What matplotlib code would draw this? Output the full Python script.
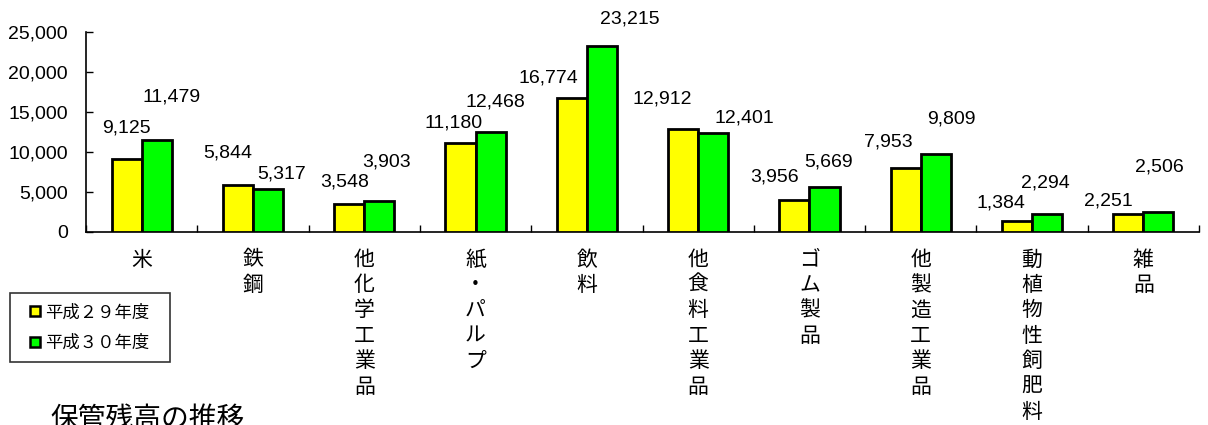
import numpy as np
import matplotlib.pyplot as plt
from matplotlib.lines import Line2D
from matplotlib.legend_handler import HandlerLine2D
from matplotlib.ticker import FuncFormatter

plt.rcParams['font.family'] = ['Liberation Sans', 'Noto Sans CJK JP', 'DejaVu Sans']

# --- data ---
categories = ['米', '鉄鋼', '他化学工業品', '紙・パルプ', '飲料', '他食料工業品',
              'ゴム製品', '他製造工業品', '動植物性飼肥料', '雑品']
h29 = [9125, 5844, 3548, 11180, 16774, 12912, 3956, 7953, 1384, 2251]
h30 = [11479, 5317, 3903, 12468, 23215, 12401, 5669, 9809, 2294, 2506]
series_names = ['平成２９年度', '平成３０年度']
title = '保管残高の推移'

# label offsets (pixels, dx / dy up) roughly matching the Excel placement
h29_off = [(0, 31), (-10, 32), (-5, 22), (-7, 20), (-23, 20),
           (-21, 30), (-20, 23), (-17, 26), (-16, 18), (-20, 13)]
h30_off = [(15, 43), (14, 15), (7, 39), (5, 30), (28, 27),
           (31, 15), (4, 25), (16, 35), (-2, 31), (1, 45)]

YELLOW = '#FFFF00'
GREEN = '#00FF00'
jp = ['Noto Sans CJK JP', 'DejaVu Sans']

fig = plt.figure(figsize=(12.08, 4.25), dpi=100)
ax = fig.add_axes([86 / 1208, (425 - 232) / 425, 1113 / 1208, 200 / 425])

x = np.arange(len(categories))
w = 0.27
b1 = ax.bar(x - w / 2, h29, w, color=YELLOW, edgecolor='black', linewidth=2, zorder=3)
b2 = ax.bar(x + w / 2, h30, w, color=GREEN, edgecolor='black', linewidth=2, zorder=3)

for bars, vals, offs in ((b1, h29, h29_off), (b2, h30, h30_off)):
    for r, v, (dx, dy) in zip(bars, vals, offs):
        ax.annotate(f'{v:,}', (r.get_x() + r.get_width() / 2, v),
                    xytext=(dx, dy), textcoords='offset pixels',
                    ha='center', va='center', fontsize=14)

ax.set_xlim(-0.5, len(categories) - 0.5)
ax.set_ylim(0, 25000)
ax.set_yticks(np.arange(0, 25001, 5000))
ax.yaxis.set_major_formatter(FuncFormatter(lambda v, p: f'{int(v):,}'))
ax.tick_params(axis='y', direction='in', length=5, width=1, pad=13, labelsize=14)

ax.set_xticks(x)
ax.set_xticklabels(['\n'.join(c) for c in categories], family=jp, fontsize=15,
                   linespacing=1.2, va='top')
ax.set_xticks(np.arange(-0.5, len(categories)), minor=True)
ax.tick_params(axis='x', which='major', length=0, pad=12)
ax.tick_params(axis='x', which='minor', direction='in', length=5, width=1)

for s in ('top', 'right'):
    ax.spines[s].set_visible(False)
ax.spines['left'].set_linewidth(1.2)
ax.spines['bottom'].set_linewidth(1.2)

handles = [Line2D([], [], linestyle='none', marker='s', markersize=7,
                  markerfacecolor=c, markeredgecolor='black', markeredgewidth=1.8)
           for c in (YELLOW, GREEN)]
leg = fig.legend(handles, series_names, loc='upper left',
                 bbox_to_anchor=(10 / 1208, 1 - 366 / 425, 160 / 1208, 73 / 425),
                 mode='expand',
                 handler_map={Line2D: HandlerLine2D(xpad=0.4)},
                 prop={'family': jp, 'size': 12.5}, frameon=True, fancybox=False,
                 edgecolor='black', handlelength=1.25, handletextpad=0.15,
                 borderpad=0.6, labelspacing=0.72, borderaxespad=0)
leg.get_frame().set_linewidth(1.2)

fig.text(50 / 1208, (425 - 419) / 425, title, family=jp, fontsize=20,
         ha='left', va='center')

fig.savefig('out.png', dpi=100)
